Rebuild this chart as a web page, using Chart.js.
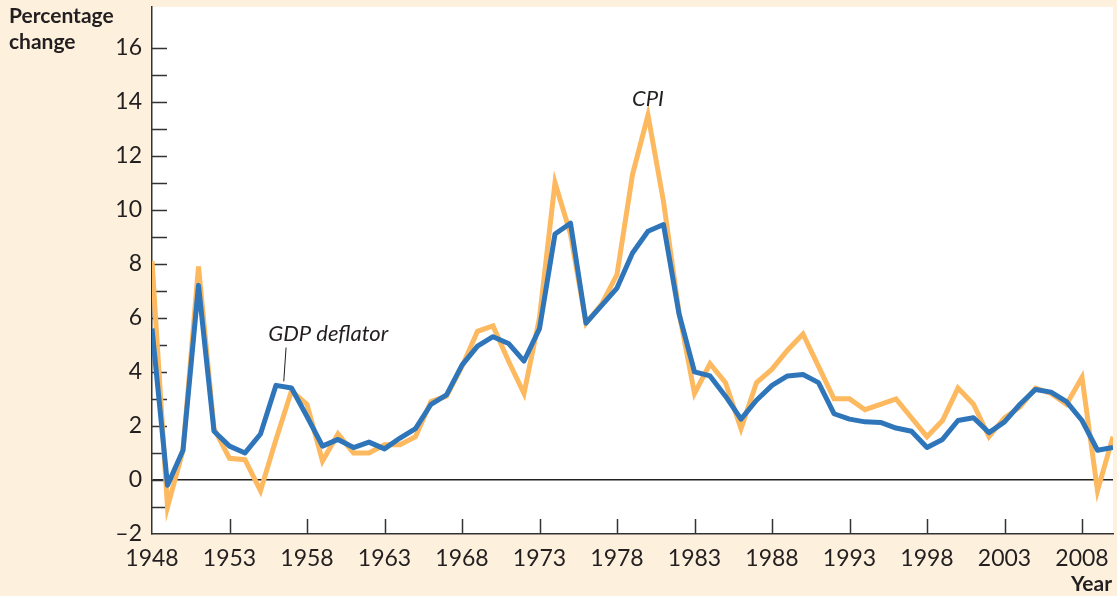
<!DOCTYPE html>
<html>
<head>
<meta charset="utf-8">
<title>GDP deflator vs CPI</title>
<script src="https://cdn.jsdelivr.net/npm/chart.js@4.4.1/dist/chart.umd.min.js"></script>
<style>
  html, body { margin: 0; padding: 0; background: #fdf0dc; overflow: hidden; }
  #inflChart { display: block; }
</style>
</head>
<body>
<canvas id="inflChart" width="1117" height="596"></canvas>
<script>
// Years on the x axis
const years = [1948, 1949, 1950, 1951, 1952, 1953, 1954, 1955, 1956, 1957,
               1958, 1959, 1960, 1961, 1962, 1963, 1964, 1965, 1966, 1967,
               1968, 1969, 1970, 1971, 1972, 1973, 1974, 1975, 1976, 1977,
               1978, 1979, 1980, 1981, 1982, 1983, 1984, 1985, 1986, 1987,
               1988, 1989, 1990, 1991, 1992, 1993, 1994, 1995, 1996, 1997,
               1998, 1999, 2000, 2001, 2002, 2003, 2004, 2005, 2006, 2007,
               2008, 2009, 2010];

// CPI inflation, percent
const cpi = [8.1, -1.0, 1.1, 7.9, 1.9, 0.8, 0.75, -0.4, 1.5, 3.3,
             2.8, 0.7, 1.7, 1.0, 1.0, 1.3, 1.3, 1.6, 2.9, 3.1,
             4.2, 5.5, 5.7, 4.4, 3.2, 6.0, 11.0, 9.1, 5.8, 6.5,
             7.6, 11.3, 13.5, 10.3, 6.2, 3.2, 4.3, 3.6, 1.9, 3.6,
             4.1, 4.8, 5.4, 4.2, 3.0, 3.0, 2.6, 2.8, 3.0, 2.3,
             1.6, 2.2, 3.4, 2.8, 1.6, 2.3, 2.7, 3.4, 3.2, 2.8,
             3.8, -0.4, 1.6];

// GDP deflator inflation, percent
const gdpDeflator = [5.6, -0.2, 1.1, 7.2, 1.8, 1.25, 1.0, 1.7, 3.5, 3.4,
                     2.35, 1.25, 1.5, 1.2, 1.4, 1.15, 1.55, 1.9, 2.8, 3.15,
                     4.25, 4.95, 5.3, 5.05, 4.4, 5.6, 9.1, 9.5, 5.8, 6.45,
                     7.1, 8.4, 9.2, 9.45, 6.15, 4.0, 3.85, 3.1, 2.25, 2.95,
                     3.5, 3.85, 3.9, 3.6, 2.45, 2.25, 2.15, 2.13, 1.92, 1.8,
                     1.2, 1.5, 2.2, 2.3, 1.75, 2.15, 2.8, 3.35, 3.25, 2.9,
                     2.2, 1.1, 1.2];

// Tick values
const xTickYears = [1948, 1953, 1958, 1963, 1968, 1973, 1978, 1983, 1988, 1993, 1998, 2003, 2008];
const yTickValues = [-2, -1, 0, 1, 2, 3, 4, 5, 6, 7, 8, 9, 10, 11, 12, 13, 14, 15, 16];

const FONT = 'Lato, "Open Sans", sans-serif';
const INK = '#231f20';

// white plot area, inward tick marks and text labels
const decorPlugin = {
    id: 'decor',
    beforeDraw(chart) {
        const { ctx, chartArea: a } = chart;
        ctx.save();
        ctx.fillStyle = '#fdf0dc';
        ctx.fillRect(0, 0, chart.width, chart.height);
        ctx.fillStyle = '#ffffff';
        ctx.fillRect(a.left, a.top, a.right - a.left, a.bottom - a.top);
        ctx.restore();
    },
    beforeDatasetsDraw(chart) {
        const { ctx, chartArea: a, scales } = chart;
        ctx.save();
        ctx.strokeStyle = '#333';
        ctx.lineWidth = 1.5;
        ctx.beginPath();
        scales.y.ticks.forEach(t => {
            if (t.value === -2) return;
            const py = Math.round(scales.y.getPixelForValue(t.value)) + 0.5;
            ctx.moveTo(a.left, py);
            ctx.lineTo(a.left + 15, py);
        });
        scales.x.ticks.forEach(t => {
            if (t.value === 1948) return;
            const px = Math.round(scales.x.getPixelForValue(t.value)) + 0.5;
            ctx.moveTo(px, a.bottom);
            ctx.lineTo(px, a.bottom - 15);
        });
        ctx.stroke();
        ctx.restore();
    },
    afterDraw(chart) {
        const { ctx, scales } = chart;
        const x = scales.x, y = scales.y;
        ctx.save();
        ctx.fillStyle = INK;
        ctx.font = 'bold 21px ' + FONT;
        ctx.textAlign = 'left';
        ctx.textBaseline = 'alphabetic';
        ctx.fillText('Percentage', 9, 23);
        ctx.fillText('change', 9, 49);
        ctx.textAlign = 'right';
        ctx.fillText('Year', 1112, 591);

        ctx.font = 'italic 22px ' + FONT;
        ctx.textAlign = 'center';
        ctx.fillText('CPI', x.getPixelForValue(1980), y.getPixelForValue(13.85));
        ctx.textAlign = 'left';
        ctx.fillText('GDP deflator', x.getPixelForValue(1955.5), y.getPixelForValue(5.15));

        // leader line to the deflator series
        ctx.strokeStyle = INK;
        ctx.lineWidth = 1;
        ctx.beginPath();
        ctx.moveTo(x.getPixelForValue(1956.65), y.getPixelForValue(4.9));
        ctx.lineTo(x.getPixelForValue(1956.5), y.getPixelForValue(3.65));
        ctx.stroke();
        ctx.restore();
    }
};

const ctx = document.getElementById('inflChart');
new Chart(ctx, {
    type: 'line',
    data: {
        datasets: [{
            label: 'GDP deflator',
            data: years.map((yr, i) => ({ x: yr, y: gdpDeflator[i] })),
            borderColor: '#2e75ba',
            borderWidth: 5,
            pointRadius: 0,
            tension: 0,
            borderJoinStyle: 'round'
        }, {
            label: 'CPI',
            data: years.map((yr, i) => ({ x: yr, y: cpi[i] })),
            borderColor: '#fdb95f',
            borderWidth: 5,
            pointRadius: 0,
            tension: 0
        }]
    },
    options: {
        responsive: false,
        animation: false,
        events: [],
        layout: { padding: { top: 7, right: 4, left: 0, bottom: 0 } },
        plugins: {
            legend: { display: false },
            tooltip: { enabled: false }
        },
        scales: {
            x: {
                type: 'linear',
                min: 1948,
                max: 2010,
                afterBuildTicks: s => { s.ticks = xTickYears.map(v => ({ value: v })); },
                afterFit: s => { s.height = 62; s.paddingLeft = 0; s.paddingRight = 0; },
                grid: { display: false },
                border: { display: true, color: '#333', width: 1.5 },
                ticks: {
                    color: INK,
                    padding: 3,
                    maxRotation: 0,
                    autoSkip: false,
                    font: { family: FONT, size: 23 },
                    callback: v => String(v)
                }
            },
            y: {
                min: -2,
                max: 17.5,
                afterBuildTicks: s => { s.ticks = yTickValues.map(v => ({ value: v })); },
                afterFit: s => { s.width = 152; s.paddingTop = 0; s.paddingBottom = 0; },
                grid: {
                    drawTicks: false,
                    color: c => (c.tick && c.tick.value === 0) ? '#222' : 'rgba(0,0,0,0)',
                    lineWidth: 1.5
                },
                border: { display: true, color: '#333', width: 1.5 },
                ticks: {
                    color: INK,
                    padding: 10,
                    autoSkip: false,
                    font: { family: FONT, size: 23 },
                    callback: v => (v % 2 !== 0) ? '' : (v < 0 ? '\u2013' + Math.abs(v) : String(v))
                }
            }
        }
    },
    plugins: [decorPlugin]
});
</script>
</body>
</html>
